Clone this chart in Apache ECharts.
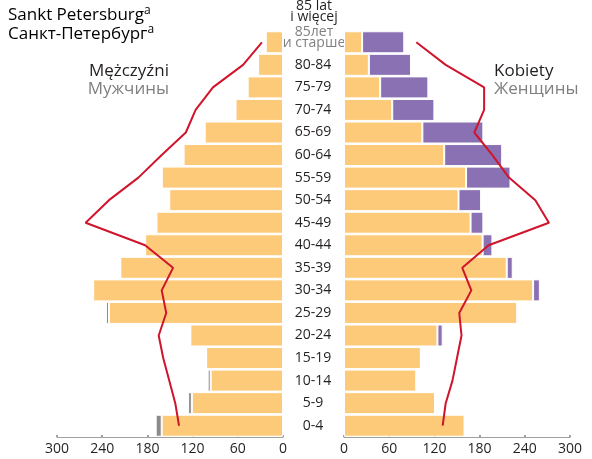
<!DOCTYPE html>
<html>
<head>
<meta charset="utf-8">
<script src="https://cdn.jsdelivr.net/npm/echarts@6/dist/echarts.min.js"></script>
<style>
  html, body { margin: 0; padding: 0; background: #fff; }
  #chart { width: 592px; height: 459px; }
</style>
</head>
<body>
<div id="chart"></div>
<script>
// age groups, bottom to top
var categories = ['0-4', '5-9', '10-14', '15-19', '20-24', '25-29', '30-34', '35-39', '40-44',
  '45-49', '50-54', '55-59', '60-64', '65-69', '70-74', '75-79', '80-84', '85+'];
var xTicks = [0, 60, 120, 180, 240, 300];

// men
var menBase = [161, 121, 96, 102, 123, 231, 252, 216, 183, 168, 151, 161, 132, 104, 63, 47, 33, 23];
var menExtra = [8, 5, 4, 0, 0, 4, 0, 0, 0, 0, 0, 0, 0, 0, 0, 0, 0, 0];
var menLine = [138, 143, 151, 159, 165, 155, 161, 146, 183, 262, 231, 192, 161, 129, 116, 93, 53, 28];

// women
var womenBase = [160, 121, 96, 102, 124, 230, 251, 216, 184, 168, 152, 162, 133, 104, 64, 48, 33, 24];
var womenExtra = [0, 0, 0, 0, 7, 0, 9, 8, 13, 17, 30, 59, 77, 81, 56, 64, 56, 56];
var womenLine = [131, 135, 144, 150, 156, 153, 169, 157, 192, 272, 254, 219, 197, 173, 186, 186, 135, 96];

var FONT = '"Open Sans", "Noto Sans", sans-serif';
var ORANGE = '#fdca7a';
var PURPLE = '#8a71b3';
var GRAY = '#8a8a8a';
var RED = '#d0142c';
var DARK = '#231f20';
var LIGHT = '#808080';

var chart = echarts.init(document.getElementById('chart'));

function valueAxis(idx, inverse) {
  return {
    type: 'value',
    gridIndex: idx,
    inverse: inverse,
    min: 0,
    max: 300,
    interval: 60,
    axisLine: { show: true, lineStyle: { color: '#a0a0a0', width: 1 } },
    axisTick: { show: true, inside: true, length: 2, lineStyle: { color: '#a0a0a0', width: 2 } },
    splitLine: { show: false },
    axisLabel: {
      margin: 5,
      color: DARK,
      fontFamily: FONT,
      fontSize: 14,
      formatter: function (v) { return xTicks.indexOf(v) >= 0 ? String(v) : ''; }
    }
  };
}

var barStyle = function (c) {
  return { color: c, borderColor: '#fff', borderWidth: 1 };
};

var options = {
  animation: false,
  grid: [
    { left: 57, width: 226, top: 31, height: 406 },
    { left: 344, width: 226, top: 31, height: 406 }
  ],
  xAxis: [valueAxis(0, true), valueAxis(1, false)],
  yAxis: [
    {
      type: 'category',
      gridIndex: 0,
      position: 'right',
      data: categories,
      axisLine: { show: false },
      axisTick: { show: false },
      axisLabel: {
        margin: 30,
        align: 'center',
        color: DARK,
        fontFamily: FONT,
        fontSize: 14,
        formatter: function (v) { return v === '85+' ? '' : v; }
      }
    },
    {
      type: 'category',
      gridIndex: 1,
      data: categories,
      axisLine: { show: false },
      axisTick: { show: false },
      axisLabel: { show: false }
    }
  ],
  series: [
    {
      name: 'menBase', type: 'bar', xAxisIndex: 0, yAxisIndex: 0, stack: 'men',
      barWidth: 22, itemStyle: barStyle(ORANGE), data: menBase
    },
    {
      name: 'menExtra', type: 'bar', xAxisIndex: 0, yAxisIndex: 0, stack: 'men',
      barWidth: 22, itemStyle: barStyle(GRAY), data: menExtra
    },
    {
      name: 'womenBase', type: 'bar', xAxisIndex: 1, yAxisIndex: 1, stack: 'women',
      barWidth: 22, itemStyle: barStyle(ORANGE), data: womenBase
    },
    {
      name: 'womenExtra', type: 'bar', xAxisIndex: 1, yAxisIndex: 1, stack: 'women',
      barWidth: 22, itemStyle: barStyle(PURPLE), data: womenExtra
    },
    {
      name: 'menLine', type: 'line', xAxisIndex: 0, yAxisIndex: 0,
      showSymbol: false, symbol: 'none', z: 5,
      lineStyle: { color: RED, width: 2 }, data: menLine
    },
    {
      name: 'womenLine', type: 'line', xAxisIndex: 1, yAxisIndex: 1,
      showSymbol: false, symbol: 'none', z: 5,
      lineStyle: { color: RED, width: 2 }, data: womenLine
    }
  ],
  graphic: [
    {
      type: 'text', left: 8, top: 5,
      style: {
        text: '{m|Sankt Petersburg}{s|a}',
        rich: {
          m: { fontFamily: FONT, fontSize: 17, color: DARK, lineHeight: 20 },
          s: { fontFamily: FONT, fontSize: 12, color: DARK, verticalAlign: 'top', lineHeight: 20, padding: [0, 0, 9, 0] }
        }
      }
    },
    {
      type: 'text', left: 8, top: 24,
      style: {
        text: '{m|Санкт-Петербург}{s|a}',
        rich: {
          m: { fontFamily: FONT, fontSize: 17, color: LIGHT, lineHeight: 20 },
          s: { fontFamily: FONT, fontSize: 12, color: LIGHT, verticalAlign: 'top', lineHeight: 20, padding: [0, 0, 9, 0] }
        }
      }
    },
    {
      type: 'text', right: 423, top: 63,
      style: { text: 'Mężczyźni', fontFamily: FONT, fontSize: 17, fill: DARK, align: 'right' }
    },
    {
      type: 'text', right: 423, top: 81,
      style: { text: 'Мужчины', fontFamily: FONT, fontSize: 17, fill: LIGHT, align: 'right' }
    },
    {
      type: 'text', left: 494, top: 63,
      style: { text: 'Kobiety', fontFamily: FONT, fontSize: 17, fill: DARK }
    },
    {
      type: 'text', left: 494, top: 81,
      style: { text: 'Женщины', fontFamily: FONT, fontSize: 17, fill: LIGHT }
    },
    {
      type: 'text', x: 314, y: 1,
      style: {
        text: '85 lat\ni więcej', fontFamily: FONT, fontSize: 14, lineHeight: 11,
        fill: DARK, align: 'center', verticalAlign: 'top'
      }
    },
    {
      type: 'text', x: 314, y: 27,
      style: {
        text: '85лет\nи старше', fontFamily: FONT, fontSize: 14, lineHeight: 10.5,
        fill: LIGHT, align: 'center', verticalAlign: 'top'
      }
    }
  ]
};

chart.setOption(options);
</script>
</body>
</html>
